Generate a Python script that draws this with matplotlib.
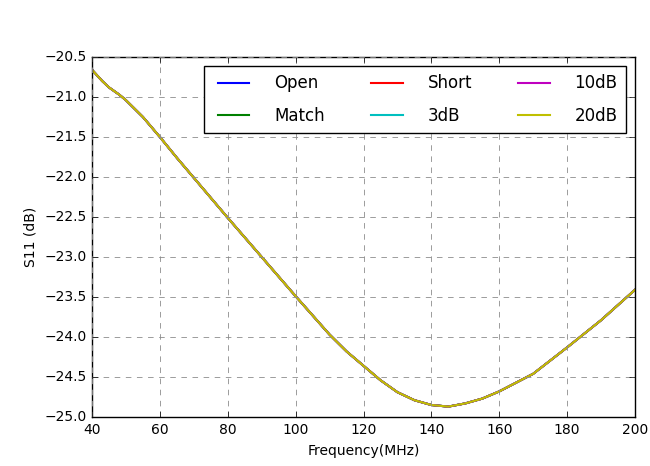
import numpy as np
import matplotlib
matplotlib.use('Agg')
from matplotlib import pyplot as plt

freq = [40, 43, 45, 48, 50, 55, 60, 65, 70, 80, 90, 100, 110, 115, 120, 125, 130, 135, 140,
        145, 150, 155, 160, 170, 180, 190, 200]
s11 = [-20.66, -20.8, -20.88, -20.97, -21.04, -21.25, -21.5, -21.76, -22.01, -22.51, -23.0,
       -23.49, -23.97, -24.18, -24.36, -24.54, -24.69, -24.79, -24.85,
       -24.87, -24.83, -24.77, -24.68, -24.46, -24.13, -23.79, -23.41]
labels = ['Open', 'Match', 'Short', '3dB', '10dB', '20dB']
colors = ['b', 'g', 'r', 'c', 'm', 'y']

plt.style.use('classic')
fig = plt.figure(figsize=(6.5, 4.66), facecolor='white')
ax = fig.add_axes([92 / 650, 1 - 417 / 466, 543 / 650, 360 / 466])

for label, color in zip(labels, colors):
    ax.plot(freq, s11, color=color, label=label, linewidth=1.5)

ax.set_xlim(40, 200)
ax.set_ylim(-25.0, -20.5)
ax.set_xticks(range(40, 201, 20))
ax.set_yticks(np.arange(-25.0, -20.4, 0.5))
ax.set_xlabel('Frequency(MHz)', fontsize=10)
ax.set_ylabel('S11 (dB)', fontsize=10)
ax.tick_params(labelsize=10)
ax.grid(True, linestyle=(0, (4, 4)), color='0.55', linewidth=0.6)
ax.legend(loc='upper right', ncol=3, fontsize=12, handlelength=2.5, handletextpad=1.2,
          columnspacing=2.45, labelspacing=0.85, borderpad=0.5, borderaxespad=0.55)

fig.savefig('out.png', dpi=100, facecolor='white')
